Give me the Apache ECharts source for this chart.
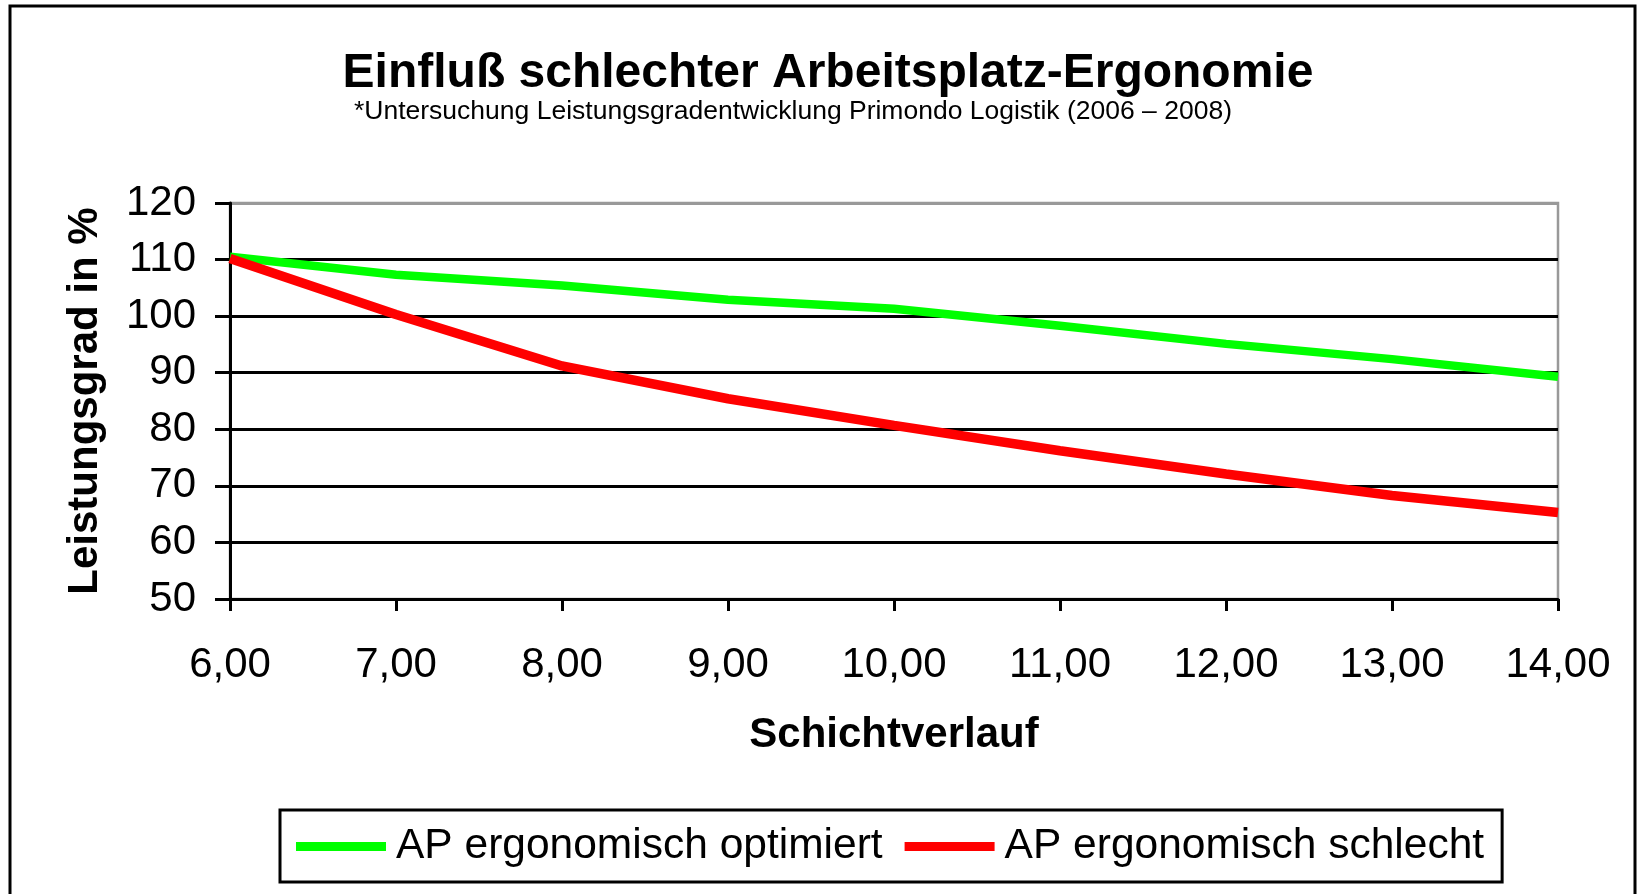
<!DOCTYPE html>
<html>
<head>
<meta charset="utf-8">
<script src="https://cdn.jsdelivr.net/npm/echarts@6/dist/echarts.min.js"></script>
<style>
html,body{margin:0;padding:0;background:#fff;}
#chart{width:1643px;height:894px;}
</style>
</head>
<body>
<div id="chart"></div>
<script>
const titleText = 'Einfluß schlechter Arbeitsplatz-Ergonomie';
const subtitleText = '*Untersuchung Leistungsgradentwicklung Primondo Logistik (2006 – 2008)';
const xAxisName = 'Schichtverlauf';
const yAxisName = 'Leistungsgrad in %';
const seriesNames = ['AP ergonomisch optimiert', 'AP ergonomisch schlecht'];
const hours = [6, 7, 8, 9, 10, 11, 12, 13, 14];
const optimiert = [110.5, 107.3, 105.4, 102.9, 101.3, 98.3, 95.1, 92.4, 89.3];
const schlecht = [110.2, 100.3, 91.2, 85.4, 80.7, 76.2, 72.1, 68.3, 65.3];

const FONT = '"Liberation Sans", Arial, sans-serif';
const chart = echarts.init(document.getElementById('chart'));

const toPairs = vals => hours.map((h, i) => [h, vals[i]]);

chart.setOption({
  backgroundColor: '#ffffff',
  animation: false,
  textStyle: { fontFamily: FONT, color: '#000' },
  graphic: [
    {
      type: 'rect',
      shape: { x: 10, y: 6, width: 1625, height: 900 },
      style: { fill: 'none', stroke: '#000', lineWidth: 3 },
      z: 0
    },
    {
      type: 'text',
      x: 828, y: 74,
      style: {
        text: titleText, fill: '#000',
        font: 'bold 48px ' + FONT,
        textAlign: 'center', textVerticalAlign: 'middle',
        align: 'center', verticalAlign: 'middle'
      }
    },
    {
      type: 'text',
      x: 793, y: 112,
      style: {
        text: subtitleText, fill: '#000',
        font: '26.5px ' + FONT,
        textAlign: 'center', textVerticalAlign: 'middle',
        align: 'center', verticalAlign: 'middle'
      }
    }
  ],
  legend: {
    left: 280, top: 810,
    padding: [15, 18, 14, 16],
    itemGap: 22,
    itemWidth: 90, itemHeight: 9,
    icon: 'rect',
    borderColor: '#000', borderWidth: 3,
    textStyle: { fontSize: 42.5, fontFamily: FONT, color: '#000', padding: [4, 0, 0, 5] },
    data: seriesNames
  },
  grid: {
    left: 230, right: 85, top: 203, bottom: 295,
    show: true, borderColor: '#999', borderWidth: 2.5,
    containLabel: false
  },
  xAxis: {
    type: 'value',
    min: 6, max: 14, interval: 1,
    name: xAxisName,
    nameLocation: 'middle',
    nameGap: 115,
    nameTextStyle: { fontSize: 42, fontWeight: 'bold', fontFamily: FONT, color: '#000' },
    axisLine: { show: true, onZero: false, lineStyle: { color: '#000', width: 3 } },
    axisTick: { show: true, length: 12, lineStyle: { color: '#000', width: 3 } },
    axisLabel: {
      fontSize: 42, color: '#000', fontFamily: FONT, margin: 45,
      formatter: v => v.toFixed(2).replace('.', ',')
    },
    splitLine: { show: false }
  },
  yAxis: {
    type: 'value',
    min: 50, max: 120, interval: 10,
    name: yAxisName,
    nameLocation: 'middle',
    nameGap: 124,
    nameRotate: 90,
    nameTextStyle: { fontSize: 42, fontWeight: 'bold', fontFamily: FONT, color: '#000' },
    axisLine: { show: true, lineStyle: { color: '#000', width: 3 } },
    axisTick: { show: true, length: 15, lineStyle: { color: '#000', width: 3 } },
    axisLabel: { fontSize: 42, color: '#000', fontFamily: FONT, margin: 34 },
    splitLine: {
      show: true,
      lineStyle: { color: ['#000', '#000', '#000', '#000', '#000', '#000', '#000', '#999'], width: 3 }
    }
  },
  series: [
    {
      name: seriesNames[0],
      type: 'line',
      data: toPairs(optimiert),
      showSymbol: false, symbol: 'none',
      clip: false,
      lineStyle: { color: '#00ff00', width: 8.5 },
      itemStyle: { color: '#00ff00' },
      z: 3
    },
    {
      name: seriesNames[1],
      type: 'line',
      data: toPairs(schlecht),
      showSymbol: false, symbol: 'none',
      clip: false,
      lineStyle: { color: '#ff0000', width: 9.5 },
      itemStyle: { color: '#ff0000' },
      z: 4
    }
  ]
});
</script>
</body>
</html>
